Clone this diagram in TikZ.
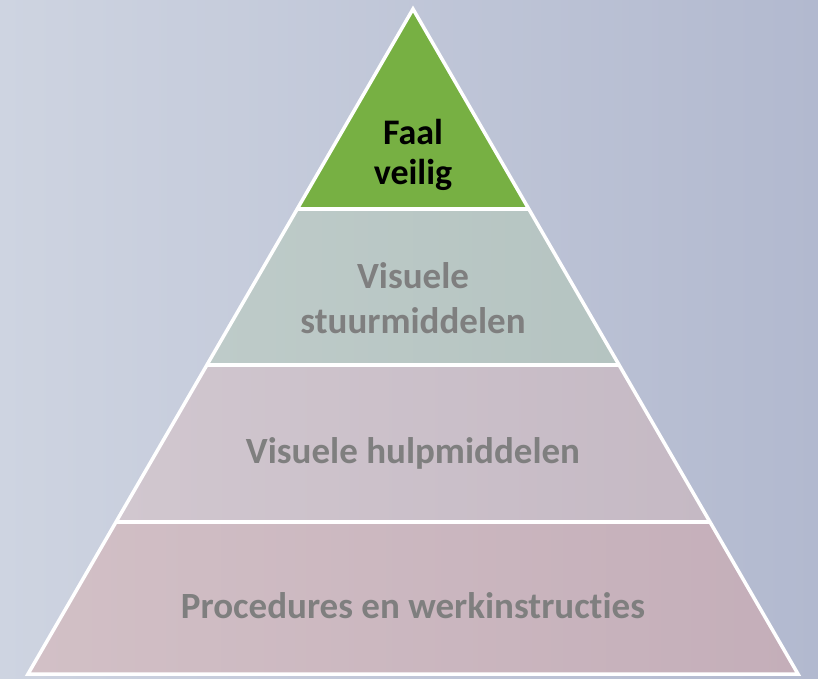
\documentclass[tikz,border=0pt]{standalone}
\usepackage{fontspec}
\setmainfont[Ligatures=NoCommon]{Carlito}
\definecolor{bgL}{HTML}{CED4E1}
\definecolor{bgR}{HTML}{B2B9CF}
\definecolor{greenB}{HTML}{77B043}
\definecolor{b2L}{HTML}{BECBC9}
\definecolor{b2R}{HTML}{B5C4C1}
\definecolor{b3L}{HTML}{D1C7CF}
\definecolor{b3R}{HTML}{C5B9C4}
\definecolor{b4L}{HTML}{D2C0C6}
\definecolor{b4R}{HTML}{C4AEB9}
\definecolor{txtgray}{HTML}{7F7F7F}
\tikzset{
  lbl/.style={font=\bfseries\fontsize{37}{45}\selectfont, align=center, text=txtgray, inner sep=0pt, anchor=base},
  toplbl/.style={lbl, font=\bfseries\fontsize{36}{40}\selectfont, text=black},
  sep/.style={draw=white, line width=3.5pt},
}
\begin{document}
\begin{tikzpicture}[x=1pt,y=-1pt]
\useasboundingbox (0,0) rectangle (818,678);
\shade[left color=bgL, right color=bgR] (0,0) rectangle (818,678);
% pyramid geometry: apex (413,9), base y=674 from 28 to 798
\def\xl#1{413-(#1-9)*0.578947}
\def\xr#1{413+(#1-9)*0.578947}
\coordinate (apex) at (413,9);
\coordinate (l1) at ({\xl{209}},209); \coordinate (r1) at ({\xr{209}},209);
\coordinate (l2) at ({\xl{365}},365); \coordinate (r2) at ({\xr{365}},365);
\coordinate (l3) at ({\xl{522}},522); \coordinate (r3) at ({\xr{522}},522);
\coordinate (l4) at ({\xl{674}},674); \coordinate (r4) at ({\xr{674}},674);
\fill[greenB] (apex) -- (r1) -- (l1) -- cycle;
\shade[left color=b2L, right color=b2R] (l1) -- (r1) -- (r2) -- (l2) -- cycle;
\shade[left color=b3L, right color=b3R] (l2) -- (r2) -- (r3) -- (l3) -- cycle;
\shade[left color=b4L, right color=b4R] (l3) -- (r3) -- (r4) -- (l4) -- cycle;
\draw[sep, line join=miter] (l4) -- (apex) -- (r4) -- cycle;
\draw[sep] (l1) -- (r1);
\draw[sep] (l2) -- (r2);
\draw[sep] (l3) -- (r3);
\node[toplbl] (t1) at (413,184) {Faal\\veilig};
\node[lbl] (t2) at (413,333) {Visuele\\stuurmiddelen};
\node[lbl] (t3) at (413,463) {Visuele hulpmiddelen};
\node[lbl] (t4) at (413,618) {Procedures en werkinstructies};
\end{tikzpicture}
\end{document}
